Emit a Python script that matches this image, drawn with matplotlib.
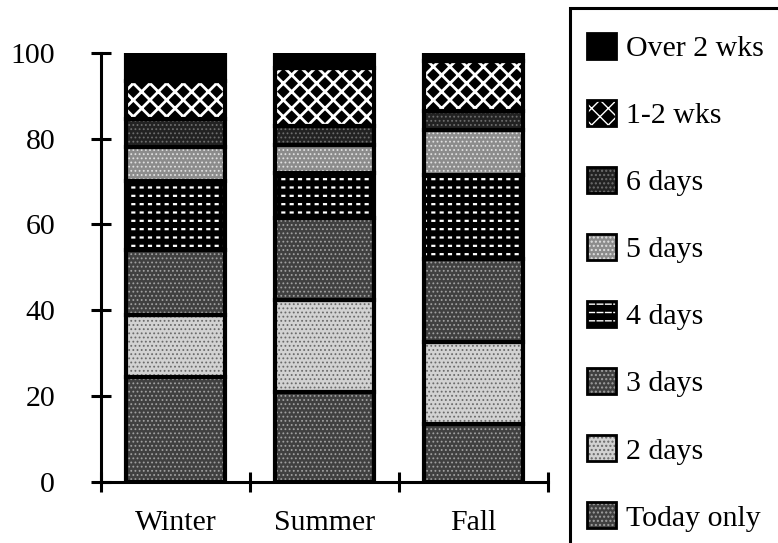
import matplotlib.pyplot as plt
from matplotlib.patches import Patch, Rectangle
from matplotlib.legend_handler import HandlerTuple

seasons = ['Winter', 'Summer', 'Fall']
labels = ['Today only', '2 days', '3 days', '4 days', '5 days', '6 days', '1-2 wks', 'Over 2 wks']

# percent of respondents per season, bottom segment first
today = [24.5, 21, 13.5]
two_days = [14.5, 21.5, 19]
three_days = [15, 19, 19.5]
four_days = [16, 10.5, 19.5]
five_days = [8, 6.5, 10.5]
six_days = [6.5, 4.5, 4.5]
one_two_wks = [9, 13.5, 11.5]
over_two_wks = [6.5, 3.5, 2]
series = [today, two_days, three_days, four_days, five_days, six_days, one_two_wks, over_two_wks]

# halftone-ish look: (face, hatch, hatch colour, hatch width, black overlay hatch)
styles = [
    ('#404040', '....', '#a0a0a0', 0.8, ''),
    ('#d2d2d2', '....', '#6a6a6a', 0.8, ''),
    ('#404040', '....', '#a0a0a0', 0.8, ''),
    ('#000000', '--', '#ffffff', 1.6, '||'),
    ('#8c8c8c', '....', '#e0e0e0', 0.8, ''),
    ('#222222', '....', '#6e6e6e', 0.8, ''),
    ('#000000', 'xx', '#ffffff', 2.0, ''),
    ('#000000', '', '#000000', 0.8, ''),
]

plt.rcParams['font.family'] = 'Liberation Serif'
plt.rcParams['font.size'] = 21.5

fig = plt.figure(figsize=(7.78, 5.43), dpi=100)
ax = fig.add_axes([101 / 778, 61 / 543, 447 / 778, 429.3 / 543])

x = range(len(seasons))
bottom = [0] * len(seasons)
handles = []
for vals, (fc, hatch, hc, hlw, over) in zip(series, styles):
    parts = []
    with plt.rc_context({'hatch.linewidth': hlw}):
        ax.bar(x, vals, 0.66, bottom=bottom, color=fc, edgecolor=hc, hatch=hatch, linewidth=0)
        parts.append(Patch(facecolor=fc, edgecolor=hc, hatch=hatch, linewidth=0))
    if over:
        # break the white stripes into short dashes
        with plt.rc_context({'hatch.linewidth': 3.0}):
            ax.bar(x, vals, 0.66, bottom=bottom, fill=False, edgecolor='black', hatch=over, linewidth=0)
            parts.append(Patch(fill=False, edgecolor='black', hatch=over, linewidth=0))
    ax.bar(x, vals, 0.66, bottom=bottom, fill=False, edgecolor='black', linewidth=3)
    parts.append(Patch(fill=False, edgecolor='black', linewidth=2))
    handles.append(tuple(parts))
    bottom = [b + v for b, v in zip(bottom, vals)]

ax.set_xlim(-0.5, 2.5)
ax.set_ylim(0, 100)
ax.spines[['top', 'right']].set_visible(False)
ax.spines[['left', 'bottom']].set_linewidth(2.2)

ax.set_xticks(list(x))
ax.set_xticklabels(seasons)
ax.set_xticks([-0.5, 0.5, 1.5, 2.5], minor=True)
ax.tick_params(axis='x', which='major', length=0, pad=20)
ax.tick_params(axis='x', which='minor', direction='inout', length=14, width=2.2)
ax.set_yticks([0, 20, 40, 60, 80, 100])
ax.tick_params(axis='y', direction='inout', length=14, width=2.2, pad=26)

fig.legend(handles[::-1], labels[::-1], loc='upper left',
           bbox_to_anchor=(587 / 778, 1 - 33 / 543), frameon=False,
           borderpad=0, borderaxespad=0, handlelength=0.97, handleheight=0.95,
           handletextpad=0.35, labelspacing=1.27,
           handler_map={tuple: HandlerTuple(ndivide=1, pad=0)})

# legend box runs off the right and bottom edge
fig.add_artist(Rectangle((570 / 778, -0.2), 1, 1.2 - 8 / 543, transform=fig.transFigure,
                         fill=False, edgecolor='black', linewidth=2.2))

fig.savefig('out.png', dpi=100)
